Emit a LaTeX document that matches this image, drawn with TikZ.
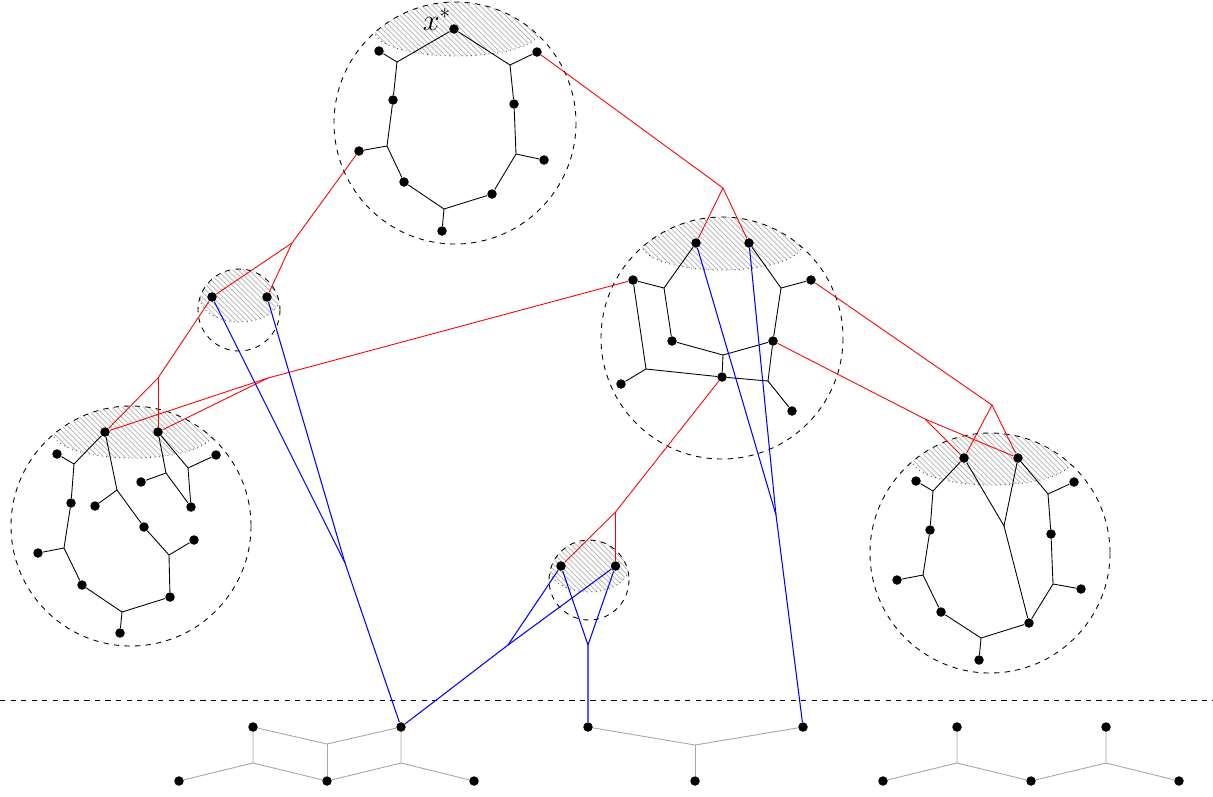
\documentclass[tikz,border=0pt]{standalone}
\usepackage{amsmath, amssymb}
\usepackage{tikz}
\usetikzlibrary{patterns, calc}
\tikzset{>=latex}
\tikzset{vertex/.style={circle, fill=black, inner sep=0pt, minimum size=0.19cm}}
\tikzset{bubble/.style={dashed}}
\tikzset{redlink/.style={red}}
\tikzset{bluelink/.style={blue, line width=0.6pt}}
\tikzset{ghost/.style={black!35}}
% hatched top of a bubble: circle (#1,#2) radius #3, ellipse (#4,#5) radii #6,#7
\newcommand{\hatchcap}[7]{%
  \begin{scope}
    \clip (#1,#2) circle [radius=#3];
    \fill[pattern=north west lines, pattern color=gray!60]
      plot[domain=0:180, samples=40] ({#4+#6*cos(\x)},{#5+#7*sin(\x)})
      -- ({#4-#6},{#2-#3-10}) -- ({#4+#6},{#2-#3-10}) -- cycle;
    \draw[dotted, black!70]
      plot[domain=0:180, samples=40] ({#4+#6*cos(\x)},{#5+#7*sin(\x)});
  \end{scope}}

\begin{document}
\begin{tikzpicture}[x=0.02cm, y=-0.02cm, line width=0.5pt]
  \useasboundingbox (0,0) rectangle (1213,796);

  \hatchcap{455}{123}{121}{457}{32}{82}{24}
  \hatchcap{722}{338}{121}{722}{245}{80}{25}
  \hatchcap{131}{526}{120}{133}{433}{80}{25}
  \hatchcap{990}{553}{120}{992}{460}{80}{25}
  \hatchcap{239}{310}{41}{240}{297}{40}{25}
  \hatchcap{589}{580}{40}{589}{567}{40}{25}

  \draw[bubble] (455,123) circle [radius=121];
  \draw[bubble] (722,338) circle [radius=121];
  \draw[bubble] (131,526) circle [radius=120];
  \draw[bubble] (990,553) circle [radius=120];
  \draw[bubble] (239,310) circle [radius=41];
  \draw[bubble] (589,580) circle [radius=40];
  \draw[dashed] (0,700) -- (1213,700);

  \node[anchor=base, inner sep=0pt] (xstar) at (437,30) {\LARGE $x^*$};

  % top bubble
  \node[vertex] (t1) at (454,29) {};
  \node[vertex] (t2) at (379,51) {};
  \node[vertex] (t3) at (393,100) {};
  \node[vertex] (t4) at (359,151) {};
  \node[vertex] (t5) at (404,182) {};
  \node[vertex] (t6) at (442,231) {};
  \node[vertex] (t7) at (492,194) {};
  \node[vertex] (t8) at (544,160) {};
  \node[vertex] (t9) at (514,104) {};
  \node[vertex] (t10) at (537,52) {};
  \coordinate (tb1) at (397,62);
  \coordinate (tb2) at (387,146);
  \coordinate (tb3) at (444,209);
  \coordinate (tb4) at (516,154);
  \coordinate (tb5) at (510,65);
  \draw (t2) -- (tb1) -- (t1) -- (tb5) -- (t10);
  \draw (tb1) -- (t3) -- (tb2) -- (t5) -- (tb3) -- (t7) -- (tb4) -- (t9) -- (tb5);
  \draw (tb2) -- (t4);
  \draw (tb3) -- (t6);
  \draw (tb4) -- (t8);

  % middle bubble
  \node[vertex] (m1) at (696,243) {};
  \node[vertex] (m2) at (749,243) {};
  \node[vertex] (m3) at (633,280) {};
  \node[vertex] (m4) at (811,280) {};
  \node[vertex] (m5) at (672,341) {};
  \node[vertex] (m6) at (773,341) {};
  \node[vertex] (m7) at (722,377) {};
  \node[vertex] (m8) at (621,384) {};
  \node[vertex] (m9) at (792,411) {};
  \coordinate (mb1) at (664,288);
  \coordinate (mb2) at (781,288);
  \coordinate (mb3) at (723,355);
  \coordinate (mb4) at (646,369);
  \coordinate (mb5) at (768,381);
  \draw (m1) -- (mb1) -- (m3) -- (mb4) -- (m7) -- (mb5) -- (m6) -- (mb2) -- (m2);
  \draw (mb1) -- (m5) -- (mb3) -- (m6);
  \draw (mb3) -- (m7);
  \draw (mb4) -- (m8);
  \draw (mb5) -- (m9);
  \draw (mb2) -- (m4);

  % left bubble
  \node[vertex] (l1) at (105,432) {};
  \node[vertex] (l2) at (158,432) {};
  \node[vertex] (l3) at (57,454) {};
  \node[vertex] (l4) at (71,503) {};
  \node[vertex] (l5) at (38,553) {};
  \node[vertex] (l6) at (82,585) {};
  \node[vertex] (l7) at (120,633) {};
  \node[vertex] (l8) at (170,597) {};
  \node[vertex] (l9) at (194,540) {};
  \node[vertex] (l10) at (144,527) {};
  \node[vertex] (l11) at (95,506) {};
  \node[vertex] (l12) at (141,482) {};
  \node[vertex] (l13) at (191,507) {};
  \node[vertex] (l14) at (216,455) {};
  \coordinate (lb1) at (74,464);
  \coordinate (lb2) at (64,548);
  \coordinate (lb3) at (122,612);
  \coordinate (lb4) at (169,555);
  \coordinate (lb5) at (117,490);
  \coordinate (lb6) at (166,473);
  \coordinate (lb7) at (188,468);
  \draw (l1) -- (lb1) -- (l4) -- (lb2) -- (l6) -- (lb3) -- (l8) -- (lb4) -- (l10) -- (lb5) -- (l1);
  \draw (lb1) -- (l3);
  \draw (lb2) -- (l5);
  \draw (lb3) -- (l7);
  \draw (lb4) -- (l9);
  \draw (lb5) -- (l11);
  \draw (l2) -- (lb6) -- (l13) -- (lb7) -- (l2);
  \draw (lb6) -- (l12);
  \draw (lb7) -- (l14);

  % right bubble
  \node[vertex] (r1) at (964,458) {};
  \node[vertex] (r2) at (1018,458) {};
  \node[vertex] (r3) at (916,481) {};
  \node[vertex] (r4) at (930,530) {};
  \node[vertex] (r5) at (897,580) {};
  \node[vertex] (r6) at (941,612) {};
  \node[vertex] (r7) at (979,660) {};
  \node[vertex] (r8) at (1029,623) {};
  \node[vertex] (r9) at (1081,589) {};
  \node[vertex] (r10) at (1051,534) {};
  \node[vertex] (r11) at (1074,482) {};
  \coordinate (rb1) at (933,491);
  \coordinate (rb2) at (923,575);
  \coordinate (rb3) at (981,638);
  \coordinate (rb4) at (1053,584);
  \coordinate (rb5) at (1048,494);
  \coordinate (rb6) at (1004,526);
  \draw (r1) -- (rb1) -- (r4) -- (rb2) -- (r6) -- (rb3) -- (r8) -- (rb4) -- (r10) -- (rb5) -- (r2) -- (rb6) -- (r1);
  \draw (rb6) -- (r8);
  \draw (rb1) -- (r3);
  \draw (rb2) -- (r5);
  \draw (rb3) -- (r7);
  \draw (rb4) -- (r9);
  \draw (rb5) -- (r11);

  % small bubbles
  \node[vertex] (s1) at (212,297) {};
  \node[vertex] (s2) at (267,297) {};
  \node[vertex] (u1) at (561,566) {};
  \node[vertex] (u2) at (615.5,566) {};

  % red links
  \coordinate (ja) at (292,243);
  \coordinate (jb) at (723,188);
  \coordinate (jc) at (158,378);
  \coordinate (jd) at (268,378);
  \coordinate (je) at (615.5,512);
  \coordinate (jf) at (992,405);
  \coordinate (jg) at (925,419);
  \draw[redlink] (t4) -- (ja) -- (s1);
  \draw[redlink] (ja) -- (s2);
  \draw[redlink] (t10) -- (jb) -- (m1);
  \draw[redlink] (jb) -- (m2);
  \draw[redlink] (s1) -- (jc) -- (l1);
  \draw[redlink] (jc) -- (l2);
  \draw[redlink] (m3) -- (jd) -- (l1);
  \draw[redlink] (jd) -- (l2);
  \draw[redlink] (m7) -- (je) -- (u1);
  \draw[redlink] (je) -- (u2);
  \draw[redlink] (m4) -- (jf) -- (r1);
  \draw[redlink] (jf) -- (r2);
  \draw[redlink] (m6) -- (jg) -- (r1);
  \draw[redlink] (jg) -- (r2);

  % bottom trees
  \node[vertex] (g1) at (253,727) {};
  \node[vertex] (g2) at (179,781) {};
  \node[vertex] (g3) at (327,781) {};
  \node[vertex] (g4) at (401,727) {};
  \node[vertex] (g5) at (474,781) {};
  \coordinate (gb1) at (253,763);
  \coordinate (gb2) at (327,744);
  \coordinate (gb3) at (401,763);
  \draw[ghost] (g2) -- (gb1) -- (g1) -- (gb2) -- (g4) -- (gb3) -- (g5);
  \draw[ghost] (gb1) -- (g3) -- (gb3);
  \draw[ghost] (gb2) -- (g3);

  \node[vertex] (h1) at (588,727) {};
  \node[vertex] (h2) at (803,727) {};
  \node[vertex] (h3) at (695,781) {};
  \coordinate (hb) at (695,745);
  \draw[ghost] (h1) -- (hb) -- (h2);
  \draw[ghost] (hb) -- (h3);

  \node[vertex] (k1) at (957,727) {};
  \node[vertex] (k2) at (883,781) {};
  \node[vertex] (k3) at (1031,781) {};
  \node[vertex] (k4) at (1106,727) {};
  \node[vertex] (k5) at (1179,781) {};
  \coordinate (kb1) at (957,763);
  \coordinate (kb2) at (1106,763);
  \draw[ghost] (k2) -- (kb1) -- (k1);
  \draw[ghost] (kb1) -- (k3) -- (kb2) -- (k4);
  \draw[ghost] (kb2) -- (k5);

  % blue links
  \coordinate (ba) at (345,563);
  \coordinate (bb) at (508,645);
  \coordinate (bc) at (588,645);
  \coordinate (bd) at (776,515);
  \draw[bluelink] (s1) -- (ba) -- (g4);
  \draw[bluelink] (s2) -- (ba);
  \draw[bluelink] (u1) -- (bb) -- (g4);
  \draw[bluelink] (u2) -- (bb);
  \draw[bluelink] (u1) -- (bc) -- (h1);
  \draw[bluelink] (u2) -- (bc);
  \draw[bluelink] (m1) -- (bd) -- (h2);
  \draw[bluelink] (m2) -- (bd);
\end{tikzpicture}
\end{document}
